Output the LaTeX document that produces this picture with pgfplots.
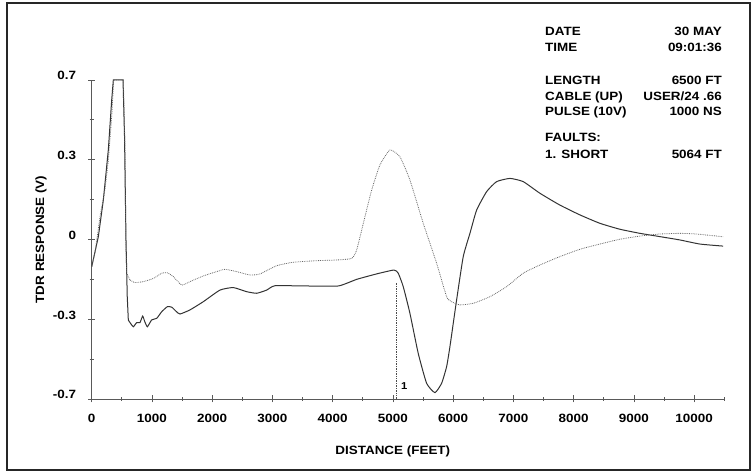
\documentclass[border=0pt]{standalone}
\usepackage{fontspec}
\setmainfont{Liberation Sans}[FakeStretch=1.12]
\usepackage{pgfplots}
\pgfplotsset{compat=1.18}

% TDR trace: distance (ft), response (V)
\pgfplotstableread{
x v
0 -0.12
50 -0.06
110 0.012
193 0.173
276 0.393
332 0.612
359 0.7
520 0.7
545 0.45
569 0.0
590 -0.25
608 -0.354
650 -0.37
691 -0.383
746 -0.365
801 -0.365
846 -0.336
880 -0.36
924 -0.383
995 -0.353
1079 -0.346
1162 -0.317
1255 -0.295
1328 -0.297
1400 -0.315
1465 -0.327
1631 -0.309
1852 -0.273
2129 -0.222
2350 -0.211
2572 -0.229
2738 -0.236
2904 -0.222
3042 -0.203
3568 -0.204
4093 -0.204
4398 -0.175
4730 -0.151
5017 -0.134
5088 -0.148
5171 -0.207
5282 -0.324
5420 -0.5
5559 -0.631
5697 -0.672
5808 -0.631
5891 -0.558
5946 -0.47
6057 -0.265
6167 -0.075
6278 0.027
6389 0.129
6555 0.21
6721 0.254
6942 0.268
7162 0.254
7439 0.203
7771 0.151
8103 0.108
8435 0.071
8767 0.045
9099 0.027
9376 0.015
9762 -0.002
10094 -0.02
10481 -0.029
}\faulttrace

% reference trace (dotted)
\pgfplotstableread{
x v
0 -0.12
60 -0.05
138 0.1
220 0.22
276 0.349
332 0.539
365 0.7
525 0.7
553 0.4
564 0.0
580 -0.148
636 -0.178
719 -0.189
857 -0.185
1023 -0.171
1162 -0.148
1255 -0.146
1355 -0.163
1494 -0.2
1631 -0.185
1852 -0.16
2073 -0.141
2212 -0.131
2406 -0.141
2627 -0.156
2793 -0.151
3070 -0.115
3346 -0.1
3734 -0.093
4066 -0.09
4315 -0.083
4398 -0.046
4509 0.071
4647 0.217
4784 0.327
4950 0.393
5116 0.363
5282 0.261
5503 0.071
5725 -0.104
5891 -0.251
5974 -0.273
6112 -0.287
6333 -0.28
6610 -0.251
6887 -0.207
7162 -0.148
7439 -0.112
7771 -0.075
8103 -0.043
8435 -0.02
8767 0.001
9099 0.015
9431 0.024
9762 0.027
10039 0.024
10481 0.012
}\reftrace

\begin{document}
\bfseries\fontsize{12}{14}\selectfont
\begin{tikzpicture}[x=1pt,y=1pt]
\useasboundingbox (0,0) rectangle (755,473);
\draw[line width=1.6pt, black!85] (7,3) rectangle (750,470);

\begin{axis}[
    at={(91.7pt,74pt)}, anchor=south west,
    scale only axis, width=632.6pt, height=319pt,
    xmin=0, xmax=10500, ymin=-0.7, ymax=0.7,
    axis lines=left,
    axis line style={-, black!65, line width=0.9pt},
    xtick={0,1000,...,10000},
    minor xtick={500,1500,...,10500},
    scaled x ticks=false,
    ytick={-0.7,-0.35,0,0.35,0.7},
    yticklabels={-0.7,-0.3,0,0.3,0.7},
    minor ytick={-0.525,-0.175,0.175,0.525},
    tick align=center,
    major tick length=7pt, minor tick length=4pt,
    tick style={black!65, line width=0.8pt},
    /pgf/number format/assume math mode=true,
    /pgf/number format/set thousands separator={},
    xticklabel style={anchor=base, inner sep=0pt, yshift=-20pt},
    yticklabel style={anchor=base east, inner sep=0pt, xshift=-12pt},
    xlabel={DISTANCE (FEET)},
    ylabel={TDR RESPONSE (V)},
    xlabel style={at={(axis description cs:0.476,-0.1755)}, anchor=base, inner sep=0pt},
    ylabel style={at={(axis description cs:-0.0754,0.5)}, anchor=base, inner sep=0pt},
]
% launch pulse: straight segments (keeps the clipped plateau flat)
\addplot[black!80, line width=1pt, restrict x to domain=0:610] table[x=x, y=v] {\faulttrace};
\addplot[black!80, line width=1pt, smooth, tension=0.3, restrict x to domain=600:10500] table[x=x, y=v] {\faulttrace};
\addplot[black!60, line width=0.8pt, densely dotted, restrict x to domain=0:640] table[x=x, y=v] {\reftrace};
\addplot[black!60, line width=0.8pt, densely dotted, smooth, tension=0.3, restrict x to domain=630:10500] table[x=x, y=v] {\reftrace};
% fault marker at 5064 ft
\addplot[black!70, line width=0.7pt, densely dotted] coordinates {(5064,-0.7) (5064,-0.19)};
\node[anchor=base west, inner sep=0pt, font=\bfseries\fontsize{10}{12}\selectfont] at (axis cs:5133,-0.66) {1};
\end{axis}

\node[anchor=base west, inner sep=0pt] at (545,437) {DATE};
\node[anchor=base east, inner sep=0pt] at (722,437) {30 MAY};
\node[anchor=base west, inner sep=0pt] at (545,421) {TIME};
\node[anchor=base east, inner sep=0pt] at (722,421) {09:01:36};
\node[anchor=base west, inner sep=0pt] at (545,388) {LENGTH};
\node[anchor=base east, inner sep=0pt] at (722,388) {6500 FT};
\node[anchor=base west, inner sep=0pt] at (545,372) {CABLE (UP)};
\node[anchor=base east, inner sep=0pt] at (722,372) {USER/24 .66};
\node[anchor=base west, inner sep=0pt] at (545,357) {PULSE (10V)};
\node[anchor=base east, inner sep=0pt] at (722,357) {1000 NS};
\node[anchor=base west, inner sep=0pt] at (545,331) {FAULTS:};
\node[anchor=base west, inner sep=0pt] at (545,314) {1. SHORT};
\node[anchor=base east, inner sep=0pt] at (722,314) {5064 FT};
\end{tikzpicture}
\end{document}
